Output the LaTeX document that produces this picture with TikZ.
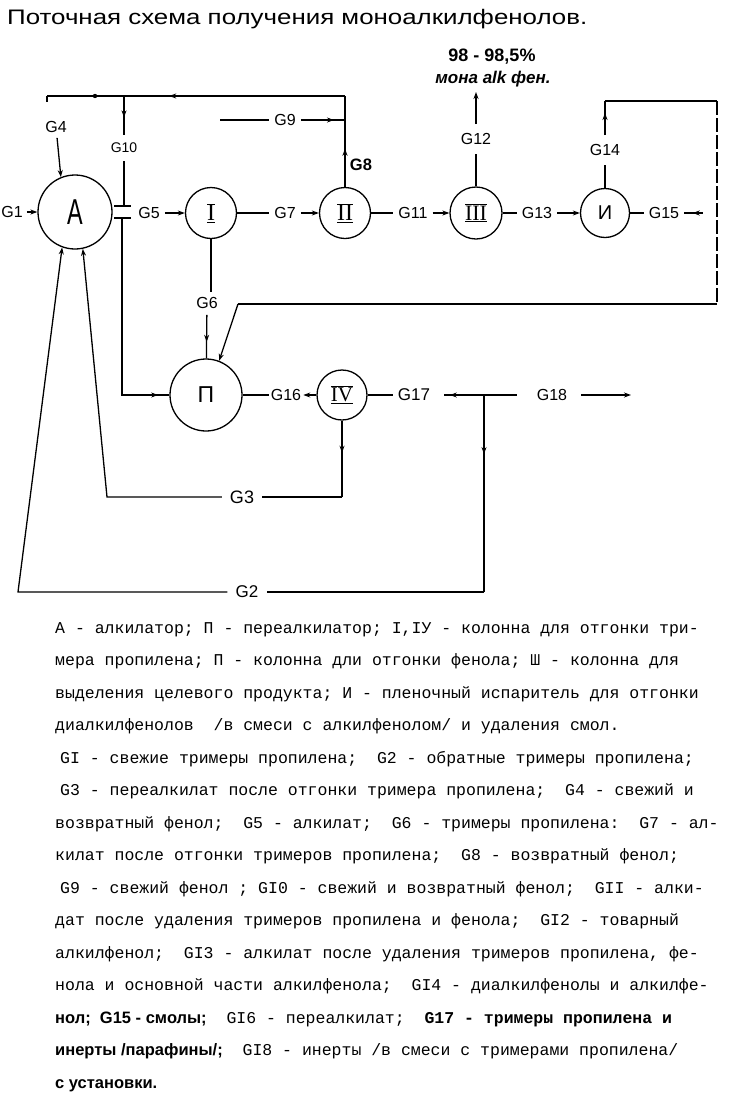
\documentclass[tikz,border=0pt]{standalone}
\usepackage{fontspec}
\setmainfont{Liberation Sans}
\newfontfamily\tw{Liberation Mono}
\newfontfamily\rs{Liberation Serif}
\usetikzlibrary{arrows.meta,decorations.markings}
\newcommand\rnum[2]{{\rs\fontsize{#2}{#2}\selectfont$\overline{\underline{\hbox{#1}}}$}}
\begin{document}
\begin{tikzpicture}[x=1pt,y=-1pt,
  ln/.style={line width=1.3pt},
  arr/.style={ln,-{Stealth[length=7pt,width=5pt]}},
  marr/.style={ln,postaction={decorate},decoration={markings,mark=at position #1 with {\arrow{Stealth[length=7pt,width=5pt]}}}},
  rarr/.style={ln,postaction={decorate},decoration={markings,mark=at position #1 with {\arrowreversed{Stealth[length=7pt,width=5pt]}}}},
  unit/.style={circle,draw,line width=1.3pt,inner sep=0pt},
  lbl/.style={font=\fontsize{16}{16}\selectfont,inner xsep=5pt,inner ysep=3pt},
  txt/.style={anchor=base west,inner sep=0pt,font=\tw\fontsize{16.5}{18}\selectfont}
]
\useasboundingbox (0,0) rectangle (729,1098);
\fill[white] (0,0) rectangle (729,1098);

% title
\node[anchor=base west,inner sep=0pt] (title) at (7,24)
  {\resizebox{580pt}{\height}{\fontsize{21}{21}\selectfont Поточная схема получения моноалкилфенолов.}};

% units
\node[unit,minimum size=74pt] (A) at (75,212) {\fontsize{36}{36}\selectfont\scalebox{0.65}[1]{А}};
\node[unit,minimum size=51pt] (I) at (211,213) {\rnum{I}{24}};
\node[unit,minimum size=51pt] (II) at (345,213) {\rnum{II}{24}};
\node[unit,minimum size=52pt] (III) at (476,213) {\rnum{III}{22}};
\node[unit,minimum size=49pt] (E) at (605,213) {\fontsize{20}{20}\selectfont И};
\node[unit,minimum size=72pt] (P) at (206,395) {\fontsize{23}{23}\selectfont П};
\node[unit,minimum size=50pt] (IV) at (342,395) {\rnum{IV}{21}};

% labels
\node[lbl,inner xsep=1pt] (g1) at (12,212) {G1};
\node[lbl] (g4) at (56,127) {G4};
\node[lbl,font=\fontsize{14}{14}\selectfont,inner ysep=8pt] (g10) at (124,148) {G10};
\node[lbl] (g5) at (149,213) {G5};
\node[lbl] (g7) at (285,213) {G7};
\node[lbl,font=\bfseries\fontsize{16.5}{16.5}\selectfont] (g8) at (361,165) {G8};
\node[lbl] (g9) at (285,120) {G9};
\node[lbl] (g11) at (413,213) {G11};
\node[lbl,inner ysep=9pt] (g12) at (476,139) {G12};
\node[lbl] (g13) at (537,213) {G13};
\node[lbl,inner ysep=9pt] (g14) at (605,150) {G14};
\node[lbl] (g15) at (664,213) {G15};
\node[lbl,inner ysep=6pt] (g6) at (207,303) {G6};
\node[lbl,inner xsep=2pt] (g16) at (286,395) {G16};
\node[lbl,font=\fontsize{17}{17}\selectfont] (g17) at (414,395) {G17};
\node[lbl] (g18) at (552,395) {G18};
\node[lbl,font=\fontsize{18}{18}\selectfont,inner xsep=8pt] (g3) at (242,497) {G3};
\node[lbl,font=\fontsize{17}{17}\selectfont,inner xsep=8pt] (g2) at (247,592) {G2};

\node[font=\bfseries\fontsize{18}{18}\selectfont] (pct) at (492,57) {98 - 98,5\%};
\node[font=\bfseries\itshape\fontsize{17}{17}\selectfont] (mono) at (493,79) {мона alk фен.};

% coordinates
\coordinate (topL) at (47,96);
\coordinate (topR) at (345,96);
\coordinate (c10) at (124,96);
\coordinate (cap1) at (124,206);
\coordinate (cap2) at (122,218);
\coordinate (c9a) at (220,120);
\coordinate (c9b) at (345,120);
\coordinate (c12a) at (476,92);
\coordinate (c14a) at (605,101);
\coordinate (c14b) at (717,101);
\coordinate (c14c) at (717,304);
\coordinate (c14d) at (238,304);
\coordinate (c6) at (211,292);
\coordinate (j) at (484,395);
\coordinate (c17a) at (444,395);
\coordinate (c17b) at (517,395);
\coordinate (c2) at (484,592);
\coordinate (c2L) at (18,592);
\coordinate (c3) at (342,497);
\coordinate (c3L) at (107,497);
\coordinate (c18b) at (631,395);
\coordinate (c15) at (703,213);

% top recycle line
\draw[marr=0.59] (topR) -- (topL);
\draw[ln] (topL) -- ++(0,6);
\fill (95,96) circle (2.2pt);
\draw[marr=0.55] (c10) -- (g10);
\draw[ln] (g10) -- (cap1);
\draw[ln] (114,206) -- (131,206);
\draw[ln] (114,218) -- (131,218);
\draw[marr=0.95] (cap2) |- (P);

% feeds to A
\draw[arr,shorten <=3pt] (g1) -- (A);
\draw[arr,shorten <=2pt] (g4) -- (A.112);

% main row
\draw[arr] (g5) -- (I);
\draw[ln] (I) -- (g7);
\draw[arr] (g7) -- (II);
\draw[marr=0.42] (II) -- (topR);
\draw[ln] (c9a) -- (g9);
\draw[marr=0.75] (g9) -- (c9b);
\draw[ln] (II) -- (g11);
\draw[arr] (g11) -- (III);
\draw[ln] (III) -- (g12);
\draw[arr] (g12) -- (c12a);
\draw[ln] (III) -- (g13);
\draw[arr] (g13) -- (E);
\draw[ln] (E) -- (g14);
\draw[marr=0.65] (g14) -- (c14a);
\draw[ln] (c14a) -- (c14b);
\draw[ln,dash pattern=on 14pt off 3pt] (c14b) -- (c14c);
\draw[ln] (c14c) -- (c14d);
\draw[arr] (c14d) -- (P.69);
\draw[ln] (E) -- (g15);
\draw[rarr=0.45] (g15) -- (c15);

% lower part
\draw[ln] (I) -- (c6);
\draw[marr=0.62] (g6) -- (P);
\draw[ln] (P) -- (g16);
\draw[ln,{Stealth[length=7pt,width=5pt]}-] (g16) -- (IV);
\draw[ln] (IV) -- (g17);
\draw[rarr=0.08] (c17a) -- (c17b);
\draw[marr=0.3] (j) -- (c2);
\draw[ln] (c2) -- (g2);
\draw[arr] (g2) -- (c2L) -- (A.250);
\draw[marr=0.42] (IV) -- (c3);
\draw[ln] (c3) -- (g3);
\draw[arr] (g3) -- (c3L) -- (A.282);
\draw[arr,shorten <=9pt] (g18) -- (c18b);

% legend text
\node[txt] (t1) at (55,633) {А - алкилатор; П - переалкилатор; I,IУ - колонна для отгонки три-};
\node[txt] (t2) at (55,665.5) {мера пропилена; П - колонна дли отгонки фенола; Ш - колонна для};
\node[txt] (t3) at (55,698) {выделения целевого продукта; И - пленочный испаритель для отгонки};
\node[txt] (t4) at (55,730.5) {диалкилфенолов\ \ /в смеси с алкилфенолом/ и удаления смол.};
\node[txt] (t5) at (60,763) {GI - свежие тримеры пропилена;\ \ G2 - обратные тримеры пропилена;};
\node[txt] (t6) at (60,795.5) {G3 - переалкилат после отгонки тримера пропилена;\ \ G4 - свежий и};
\node[txt] (t7) at (55,828) {возвратный фенол;\ \ G5 - алкилат;\ \ G6 - тримеры пропилена:\ \ G7 - ал-};
\node[txt] (t8) at (55,860.5) {килат после отгонки тримеров пропилена;\ \ G8 - возвратный фенол;};
\node[txt] (t9) at (60,893) {G9 - свежий фенол ; GI0 - свежий и возвратный фенол;\ \ GII - алки-};
\node[txt] (t10) at (55,925.5) {дат после удаления тримеров пропилена и фенола;\ \ GI2 - товарный};
\node[txt] (t11) at (55,958) {алкилфенол;\ \ GI3 - алкилат после удаления тримеров пропилена, фе-};
\node[txt] (t12) at (55,990.5) {нола и основной части алкилфенола;\ \ GI4 - диалкилфенолы и алкилфе-};
\node[txt] (t13) at (55,1023) {{\rmfamily\bfseries нол;\ \ G15 - смолы;}\ \ GI6 - переалкилат;\ \ {\bfseries G17 - тримеры пропилена и}};
\node[txt] (t14) at (55,1055.5) {{\rmfamily\bfseries инерты /парафины/;}\ \ GI8 - инерты /в смеси с тримерами пропилена/};
\node[txt] (t15) at (55,1088) {{\rmfamily\bfseries с установки.}};
\end{tikzpicture}
\end{document}
